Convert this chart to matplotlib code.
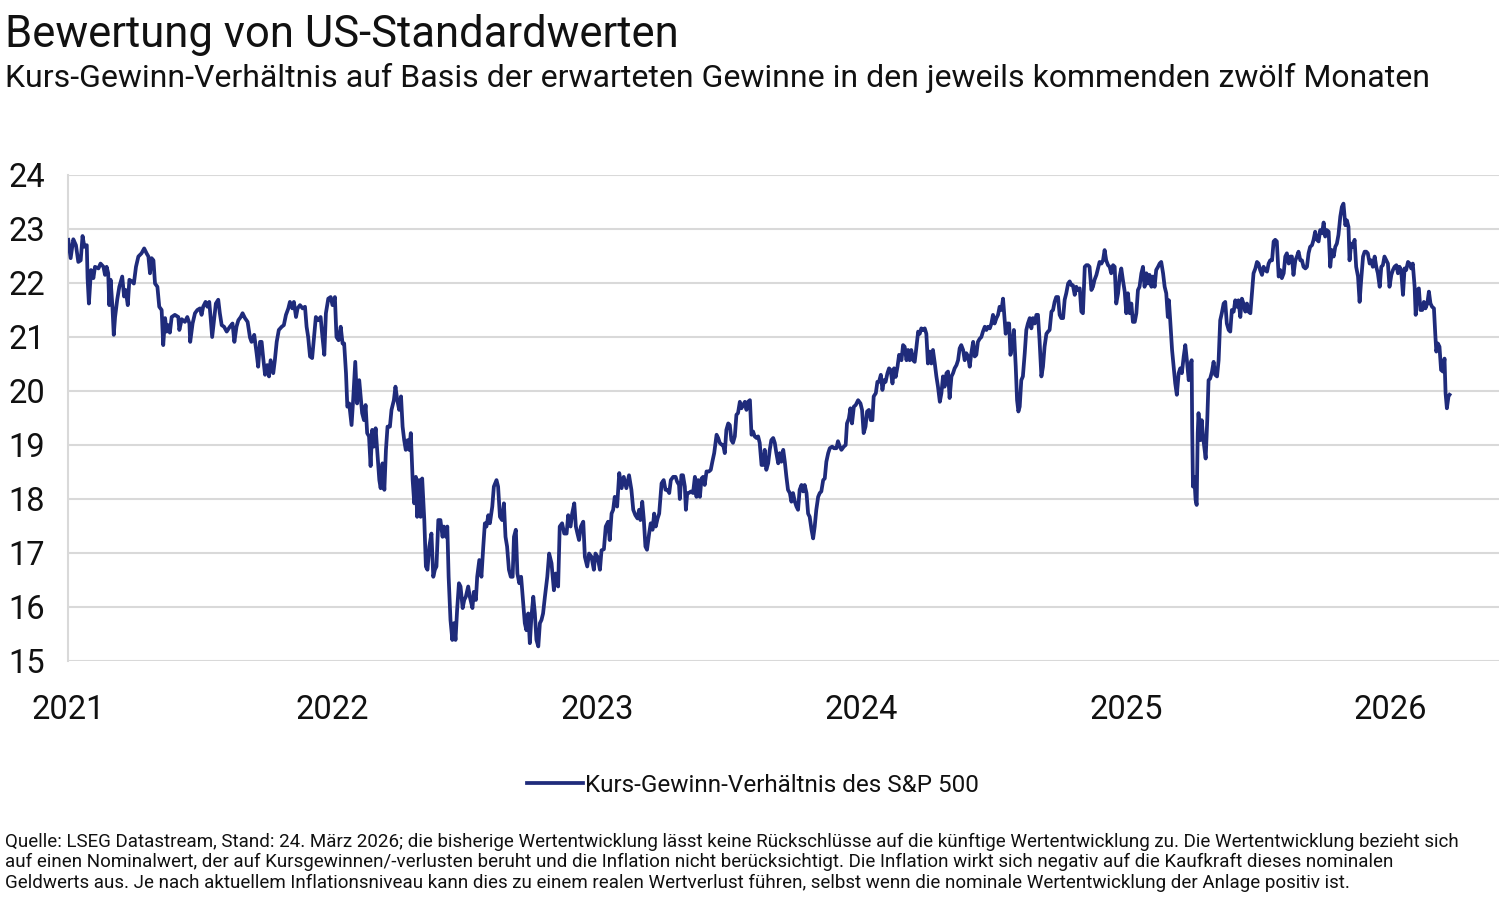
import matplotlib
matplotlib.use("Agg")
import matplotlib.pyplot as plt
from matplotlib.lines import Line2D

plt.rcParams['font.family'] = ['Roboto', 'DejaVu Sans']

title = "Bewertung von US-Standardwerten"
subtitle = "Kurs-Gewinn-Verhältnis auf Basis der erwarteten Gewinne in den jeweils kommenden zwölf Monaten"
series_label = "Kurs-Gewinn-Verhältnis des S&P 500"
footnote = ("Quelle: LSEG Datastream, Stand: 24. März 2026; die bisherige Wertentwicklung lässt keine Rückschlüsse auf die künftige Wertentwicklung zu. Die Wertentwicklung bezieht sich\n"
            "auf einen Nominalwert, der auf Kursgewinnen/-verlusten beruht und die Inflation nicht berücksichtigt. Die Inflation wirkt sich negativ auf die Kaufkraft dieses nominalen\n"
            "Geldwerts aus. Je nach aktuellem Inflationsniveau kann dies zu einem realen Wertverlust führen, selbst wenn die nominale Wertentwicklung der Anlage positiv ist.")

year_ticks = [2021, 2022, 2023, 2024, 2025, 2026]
y_ticks = [15, 16, 17, 18, 19, 20, 21, 22, 23, 24]

# decimal year of each observation
t = [
2021.001,2021.010,2021.020,2021.030,2021.039,2021.048,2021.055,2021.062,2021.071,2021.074,
2021.079,2021.087,2021.096,2021.102,2021.115,2021.123,2021.134,2021.140,2021.146,2021.152,
2021.156,2021.161,2021.168,2021.173,2021.178,2021.186,2021.194,2021.205,2021.212,2021.218,
2021.226,2021.232,2021.241,2021.249,2021.257,2021.266,2021.278,2021.288,2021.297,2021.304,
2021.310,2021.316,2021.323,2021.329,2021.338,2021.345,2021.354,2021.360,2021.367,2021.373,
2021.379,2021.385,2021.392,2021.404,2021.417,2021.421,2021.430,2021.442,2021.451,2021.459,
2021.462,2021.471,2021.480,2021.489,2021.499,2021.505,2021.511,2021.520,2021.527,2021.534,
2021.539,2021.545,2021.552,2021.559,2021.568,2021.574,2021.581,2021.590,2021.600,2021.612,
2021.622,2021.629,2021.637,2021.644,2021.653,2021.660,2021.669,2021.679,2021.688,2021.694,
2021.704,2021.713,2021.719,2021.726,2021.732,2021.738,2021.745,2021.753,2021.760,2021.766,
2021.776,2021.782,2021.789,2021.797,2021.808,2021.816,2021.824,2021.833,2021.839,2021.848,
2021.854,2021.862,2021.868,2021.877,2021.887,2021.896,2021.902,2021.908,2021.915,2021.923,
2021.930,2021.937,2021.946,2021.955,2021.962,2021.969,2021.975,2021.984,2021.993,2022.000,
2022.009,2022.015,2022.023,2022.031,2022.038,2022.044,2022.051,2022.056,2022.063,2022.072,
2022.078,2022.086,2022.093,2022.101,
2022.112,2022.119,2022.125,2022.131,2022.138,2022.144,2022.150,2022.156,2022.163,2022.169,
2022.177,2022.182,2022.189,2022.196,2022.202,2022.208,2022.217,2022.223,2022.232,2022.238,
2022.245,2022.252,2022.259,2022.265,2022.271,2022.277,2022.284,2022.290,2022.296,2022.303,
2022.309,2022.315,2022.320,2022.327,2022.333,2022.339,2022.347,2022.353,2022.359,2022.366,
2022.374,2022.381,2022.387,2022.393,2022.400,2022.408,2022.416,2022.421,2022.429,2022.434,
2022.439,2022.446,2022.453,2022.459,2022.465,2022.471,2022.478,2022.484,2022.492,2022.498,
2022.504,2022.513,2022.519,2022.529,2022.534,2022.542,2022.547,2022.555,2022.563,2022.570,
2022.576,2022.582,2022.589,2022.595,2022.604,2022.610,2022.620,2022.626,2022.633,2022.641,
2022.648,2022.654,2022.660,2022.667,2022.674,2022.681,2022.686,2022.693,2022.699,2022.706,
2022.713,2022.721,2022.727,2022.733,2022.740,2022.746,2022.752,2022.759,2022.765,2022.771,
2022.778,2022.784,2022.790,2022.796,2022.803,2022.812,2022.819,2022.828,2022.837,2022.844,
2022.853,2022.859,2022.868,2022.876,2022.885,2022.891,2022.900,2022.906,2022.914,2022.920,
2022.926,2022.932,2022.939,2022.948,2022.954,2022.963,2022.970,2022.979,2022.988,2022.994,
2023.002,2023.011,2023.017,2023.026,2023.033,2023.042,2023.048,2023.055,2023.061,2023.067,
2023.076,2023.084,2023.093,2023.101,2023.111,2023.121,
2023.130,2023.137,2023.145,2023.153,2023.159,2023.164,2023.171,2023.177,2023.183,2023.189,
2023.197,2023.203,2023.210,2023.216,2023.222,2023.229,2023.235,2023.244,2023.252,2023.259,
2023.266,2023.273,2023.279,2023.288,2023.297,2023.303,2023.310,2023.313,2023.319,2023.325,
2023.332,2023.336,2023.341,2023.347,2023.355,2023.363,2023.370,2023.376,2023.382,2023.389,
2023.395,2023.401,2023.407,2023.414,2023.423,2023.430,2023.436,2023.443,2023.452,2023.458,
2023.464,2023.470,2023.477,2023.483,2023.489,2023.496,2023.502,2023.508,2023.514,2023.521,
2023.527,2023.533,2023.540,2023.546,2023.552,2023.559,2023.565,2023.571,2023.578,2023.584,
2023.590,2023.596,2023.603,2023.609,2023.615,2023.622,2023.628,2023.634,2023.640,2023.647,
2023.653,2023.659,2023.666,2023.672,2023.678,2023.685,2023.691,2023.697,2023.704,2023.710,
2023.716,2023.722,2023.729,2023.735,2023.741,2023.748,2023.754,2023.760,2023.766,2023.773,
2023.779,2023.785,2023.792,2023.798,2023.804,2023.811,2023.817,2023.823,2023.829,2023.836,
2023.842,2023.848,2023.855,2023.861,2023.867,2023.874,2023.880,2023.889,2023.896,2023.905,
2023.911,2023.918,2023.924,2023.933,2023.940,2023.945,2023.952,2023.958,2023.964,2023.971,
2023.978,2023.987,2023.996,2024.002,2024.008,2024.015,2024.021,2024.028,2024.035,2024.041,
2024.046,2024.054,2024.060,2024.066,2024.073,2024.079,2024.085,2024.091,2024.098,2024.104,
2024.110,2024.117,2024.123,2024.129,2024.136,2024.142,
2024.151,2024.157,2024.163,2024.170,2024.176,2024.182,2024.188,2024.195,2024.201,2024.207,
2024.214,2024.220,2024.226,2024.233,2024.239,2024.245,2024.251,2024.258,2024.264,2024.270,
2024.277,2024.283,2024.289,2024.296,2024.302,2024.308,2024.314,2024.321,2024.327,2024.333,
2024.340,2024.346,2024.352,2024.359,2024.365,2024.371,2024.377,2024.384,2024.390,2024.396,
2024.403,2024.409,2024.415,2024.422,2024.428,2024.434,2024.440,2024.447,2024.453,2024.459,
2024.466,2024.472,2024.478,2024.485,2024.491,2024.497,2024.503,2024.510,2024.516,2024.522,
2024.529,2024.535,2024.541,2024.545,2024.551,2024.558,2024.563,2024.570,2024.576,2024.583,
2024.588,2024.593,2024.598,2024.604,2024.610,2024.617,2024.623,2024.629,2024.636,2024.642,
2024.648,2024.655,2024.661,2024.667,2024.673,2024.680,2024.686,2024.692,2024.699,2024.705,
2024.711,2024.718,2024.724,2024.730,2024.736,2024.743,2024.749,2024.755,2024.762,2024.768,
2024.774,2024.781,2024.787,2024.793,2024.799,2024.806,2024.812,2024.818,2024.825,2024.831,
2024.837,2024.844,2024.850,2024.856,2024.862,2024.869,2024.875,2024.881,2024.888,2024.894,
2024.900,2024.907,2024.913,2024.919,2024.925,2024.932,2024.938,2024.944,2024.951,2024.957,
2024.963,2024.970,2024.976,2024.982,2024.988,2024.995,2025.001,2025.007,2025.014,2025.020,
2025.026,2025.033,2025.039,2025.045,2025.051,2025.058,2025.064,2025.070,2025.077,2025.083,
2025.089,2025.096,2025.102,2025.108,2025.114,2025.121,2025.127,2025.133,2025.140,2025.146,
2025.152,2025.158,2025.162,
2025.167,2025.174,2025.180,2025.186,2025.192,2025.199,2025.205,2025.211,2025.218,2025.224,
2025.230,2025.237,2025.243,2025.248,2025.250,2025.253,2025.258,2025.263,2025.267,2025.271,
2025.274,2025.281,2025.286,2025.291,2025.297,2025.301,2025.307,2025.312,2025.318,2025.325,
2025.331,2025.337,2025.344,2025.350,2025.356,2025.362,2025.369,2025.375,2025.381,2025.388,
2025.394,2025.400,2025.407,2025.413,2025.419,2025.425,2025.432,2025.438,2025.444,2025.451,
2025.457,2025.463,2025.470,2025.476,2025.482,2025.489,2025.495,2025.501,2025.507,2025.514,
2025.520,2025.526,2025.533,2025.539,2025.545,2025.552,2025.558,2025.564,2025.570,2025.577,
2025.583,2025.589,2025.596,2025.602,2025.608,2025.615,2025.621,2025.627,2025.633,2025.640,
2025.646,2025.652,2025.659,2025.665,2025.671,2025.678,2025.684,2025.690,2025.696,2025.703,
2025.709,2025.715,2025.722,2025.728,2025.734,2025.741,2025.747,2025.753,2025.759,2025.766,
2025.772,2025.778,2025.785,2025.791,2025.797,2025.803,2025.810,2025.816,2025.822,2025.829,
2025.835,2025.841,2025.845,2025.851,2025.858,2025.864,2025.870,2025.877,2025.883,2025.889,
2025.896,2025.902,2025.908,2025.914,2025.921,2025.927,2025.933,2025.940,2025.946,2025.952,
2025.959,2025.965,2025.971,2025.977,2025.984,2025.990,2025.996,2026.003,2026.009,2026.015,
2026.022,2026.028,2026.034,2026.040,2026.047,2026.053,2026.059,2026.066,2026.072,2026.078,
2026.084,2026.091,2026.095,2026.101,2026.107,2026.113,2026.120,2026.126,2026.132,2026.139,
2026.145,2026.151,2026.157,2026.164,2026.169,2026.173,2026.179,2026.185,2026.191,2026.198,
2026.204,2026.208,2026.213,2026.219,2026.223,
]

# forward P/E of the S&P 500
pe = [
22.80,22.46,22.81,22.70,22.39,22.42,22.87,22.67,22.70,22.09,
21.62,22.24,22.09,22.30,22.27,22.36,22.30,22.15,22.30,22.18,
21.59,22.06,21.56,21.04,21.37,21.69,21.93,22.12,21.75,21.87,
21.59,22.06,22.03,21.99,22.30,22.49,22.55,22.64,22.55,22.49,
22.18,22.46,22.42,21.99,21.93,21.56,21.50,20.85,21.35,21.10,
21.22,21.08,21.37,21.41,21.37,21.13,21.33,21.28,21.37,21.25,
20.91,21.25,21.44,21.50,21.53,21.41,21.56,21.65,21.56,21.65,
21.37,21.00,21.31,21.62,21.69,21.44,21.22,21.19,21.10,21.19,
21.25,20.91,21.19,21.31,21.37,21.44,21.35,21.28,20.99,20.91,
21.04,20.70,20.45,20.91,20.91,20.61,20.30,20.48,20.27,20.57,
20.33,20.57,20.91,21.13,21.19,21.22,21.41,21.53,21.65,21.53,
21.65,21.37,21.53,21.59,21.53,21.56,21.19,21.00,20.64,20.61,
21.00,21.37,21.31,21.37,21.00,20.67,21.44,21.71,21.74,21.59,
21.74,21.00,20.94,21.19,20.88,20.88,20.33,19.71,19.77,19.37,
19.83,20.54,19.77,20.20,
19.59,19.46,19.74,19.22,19.16,18.61,19.28,18.97,19.31,18.91,
18.35,18.20,18.66,18.17,18.91,19.34,19.34,19.65,19.83,20.08,
19.83,19.65,19.90,19.34,19.09,18.91,19.09,18.91,19.22,18.35,
17.92,18.41,17.67,18.35,17.67,18.38,17.61,16.75,16.69,17.12,
17.36,16.56,16.69,16.75,17.61,17.61,17.30,17.49,17.30,17.49,
16.56,15.76,15.39,15.70,15.39,15.94,16.44,16.38,15.98,16.13,
16.19,16.38,16.19,15.98,16.28,16.13,16.56,16.87,16.56,17.12,
17.55,17.49,17.70,17.55,17.86,18.23,18.35,18.23,17.67,17.61,
17.92,17.30,17.12,16.69,16.56,16.56,17.30,17.43,16.62,16.44,
16.56,16.07,15.70,15.57,15.88,15.33,15.82,16.19,15.88,15.39,
15.27,15.70,15.76,15.88,16.19,16.56,16.99,16.81,16.31,16.62,
16.38,17.49,17.55,17.36,17.36,17.70,17.49,17.73,17.92,17.49,
17.36,17.24,17.49,17.58,16.93,16.75,16.99,16.93,16.69,16.99,
16.93,16.69,17.05,17.07,17.49,17.58,17.24,17.73,17.80,18.04,
17.86,18.48,18.20,18.41,18.20,18.44,
18.17,17.80,17.70,17.64,17.80,17.61,17.95,17.61,17.12,17.06,
17.36,17.55,17.43,17.73,17.49,17.64,17.73,18.29,18.35,18.17,
18.17,18.11,18.35,18.41,18.41,18.32,18.26,18.00,18.44,18.44,
18.23,17.80,18.11,18.11,18.14,18.11,18.41,18.04,18.35,18.04,
18.38,18.41,18.26,18.51,18.51,18.54,18.69,18.85,19.19,19.13,
19.04,19.01,19.00,18.85,19.28,19.40,19.37,19.09,19.04,19.16,
19.56,19.59,19.80,19.68,19.74,19.80,19.65,19.80,19.83,19.19,
19.25,19.16,19.13,19.16,19.04,18.63,18.63,18.91,18.54,18.66,
18.91,19.09,19.13,19.04,18.85,18.66,18.85,18.69,18.91,18.69,
18.41,18.17,18.11,17.95,18.11,17.95,17.86,17.80,18.17,18.26,
18.14,18.26,18.11,17.73,17.67,17.43,17.27,17.49,17.80,18.04,
18.11,18.14,18.35,18.38,18.69,18.85,18.94,18.97,18.94,18.94,
19.07,18.97,18.91,18.97,19.00,19.40,19.49,19.68,19.40,19.71,
19.74,19.83,19.77,19.65,19.22,19.34,19.62,19.65,19.46,19.46,
19.90,19.96,20.17,20.17,20.30,20.02,20.20,20.17,20.33,20.42,
20.39,20.14,20.42,20.26,20.45,20.67,
20.57,20.85,20.82,20.57,20.76,20.57,20.76,20.57,20.54,20.79,
21.10,21.06,21.16,21.13,21.16,21.06,20.51,20.73,20.51,20.76,
20.51,20.27,20.08,19.80,19.96,20.27,20.08,20.33,20.36,19.87,
20.27,20.33,20.42,20.48,20.57,20.79,20.85,20.76,20.57,20.70,
20.64,20.45,20.70,20.91,20.64,20.67,20.91,20.97,21.00,21.10,
21.19,21.13,21.19,21.16,21.25,21.41,21.25,21.35,21.41,21.56,
21.50,21.71,21.31,21.06,21.25,21.25,20.67,20.85,21.13,20.45,
19.83,19.62,19.71,20.20,20.27,20.70,21.13,21.25,21.35,21.16,
21.35,21.25,21.41,21.41,20.94,20.27,20.45,20.82,21.06,21.10,
21.13,21.47,21.50,21.65,21.74,21.74,21.41,21.35,21.35,21.69,
21.81,21.99,22.03,21.96,21.96,21.78,21.93,21.87,21.90,21.47,
21.44,22.30,22.33,22.33,22.30,21.87,21.93,22.06,22.15,22.27,
22.39,22.36,22.42,22.61,22.42,22.33,22.30,22.18,22.33,22.30,
21.62,21.81,22.12,22.27,22.06,21.84,21.44,21.81,21.44,21.62,
21.28,21.28,21.44,21.87,21.93,22.18,22.30,21.93,22.18,21.99,
22.15,21.93,22.12,21.93,22.24,22.30,22.36,22.39,22.18,21.93,
21.81,21.37,21.68,
21.31,20.76,20.45,20.14,19.93,20.33,20.42,20.33,20.64,20.85,
20.57,20.20,20.48,20.57,19.34,18.23,18.41,17.98,17.89,19.22,
19.59,19.09,19.46,19.16,18.91,18.75,19.46,20.20,20.23,20.36,
20.54,20.30,20.27,20.57,21.31,21.44,21.62,21.65,21.25,21.13,
21.10,21.50,21.47,21.68,21.56,21.68,21.37,21.71,21.62,21.47,
21.62,21.47,21.44,21.81,22.18,22.27,22.39,22.36,22.24,22.15,
22.30,22.24,22.21,22.36,22.42,22.42,22.77,22.80,22.77,22.12,
22.24,22.09,22.18,22.49,22.55,22.36,22.49,22.49,22.15,22.42,
22.49,22.58,22.42,22.42,22.30,22.27,22.30,22.55,22.67,22.70,
22.80,22.95,22.80,22.77,22.98,22.92,23.12,22.86,22.98,22.95,
22.30,22.61,22.49,22.67,22.73,22.89,23.23,23.41,23.47,23.07,
23.16,23.04,22.42,22.73,22.67,22.80,22.30,22.12,21.65,22.06,
22.49,22.58,22.58,22.55,22.36,22.42,22.30,22.49,22.30,22.18,
21.93,22.30,22.33,22.49,22.42,22.36,21.93,22.15,22.24,22.30,
22.33,22.18,22.30,22.24,21.78,22.27,22.24,22.39,22.36,22.27,
22.36,21.93,21.41,21.87,21.90,21.50,21.50,21.65,21.53,21.62,
21.84,21.62,21.56,21.53,21.06,20.73,20.88,20.82,20.39,20.36,
20.60,19.96,19.68,19.90,19.93,
]

W, H = 1500, 898
fig = plt.figure(figsize=(W / 100, H / 100), dpi=100)
ax = fig.add_axes([68 / W, 1 - 661 / H, (1499 - 68) / W, (661 - 175) / H])

line_color = '#1f2b7b'
grid_color = '#d9d9d9'
ax.plot(t, pe, color=line_color, lw=2.7, solid_joinstyle='round', zorder=3)

ax.set_xlim(2021.0, 2026.41)
ax.set_ylim(15, 24)
ax.set_yticks(y_ticks)
ax.set_xticks(year_ticks)
ax.set_xticklabels([str(y) for y in year_ticks])
ax.yaxis.grid(True, color=grid_color, lw=1.5, zorder=0)
ax.xaxis.grid(False)
for s in ['top', 'right', 'bottom']:
    ax.spines[s].set_visible(False)
ax.spines['left'].set_color(grid_color)
ax.spines['left'].set_linewidth(1.5)
ax.tick_params(axis='both', length=0, labelsize=23.5, colors='#111111')
ax.tick_params(axis='x', pad=24)
ax.tick_params(axis='y', pad=16.5)

fig.text(5 / W, 1 - 14 / H, title, fontsize=31.4, va='top', ha='left', color='#111111')
fig.text(5 / W, 1 - 63 / H, subtitle, fontsize=23, va='top', ha='left', color='#111111')

handle = Line2D([], [], color=line_color, lw=2.7)
fig.legend([handle], [series_label], loc='center', bbox_to_anchor=(753 / W, 1 - 785 / H),
           frameon=False, fontsize=17.5, handlelength=2.3, handletextpad=0.1,
           labelcolor='#111111')

fig.text(5 / W, 1 - 833 / H, footnote, fontsize=13.5, va='top', ha='left',
         color='#111111', linespacing=1.15)

fig.savefig('out.png', dpi=100)
